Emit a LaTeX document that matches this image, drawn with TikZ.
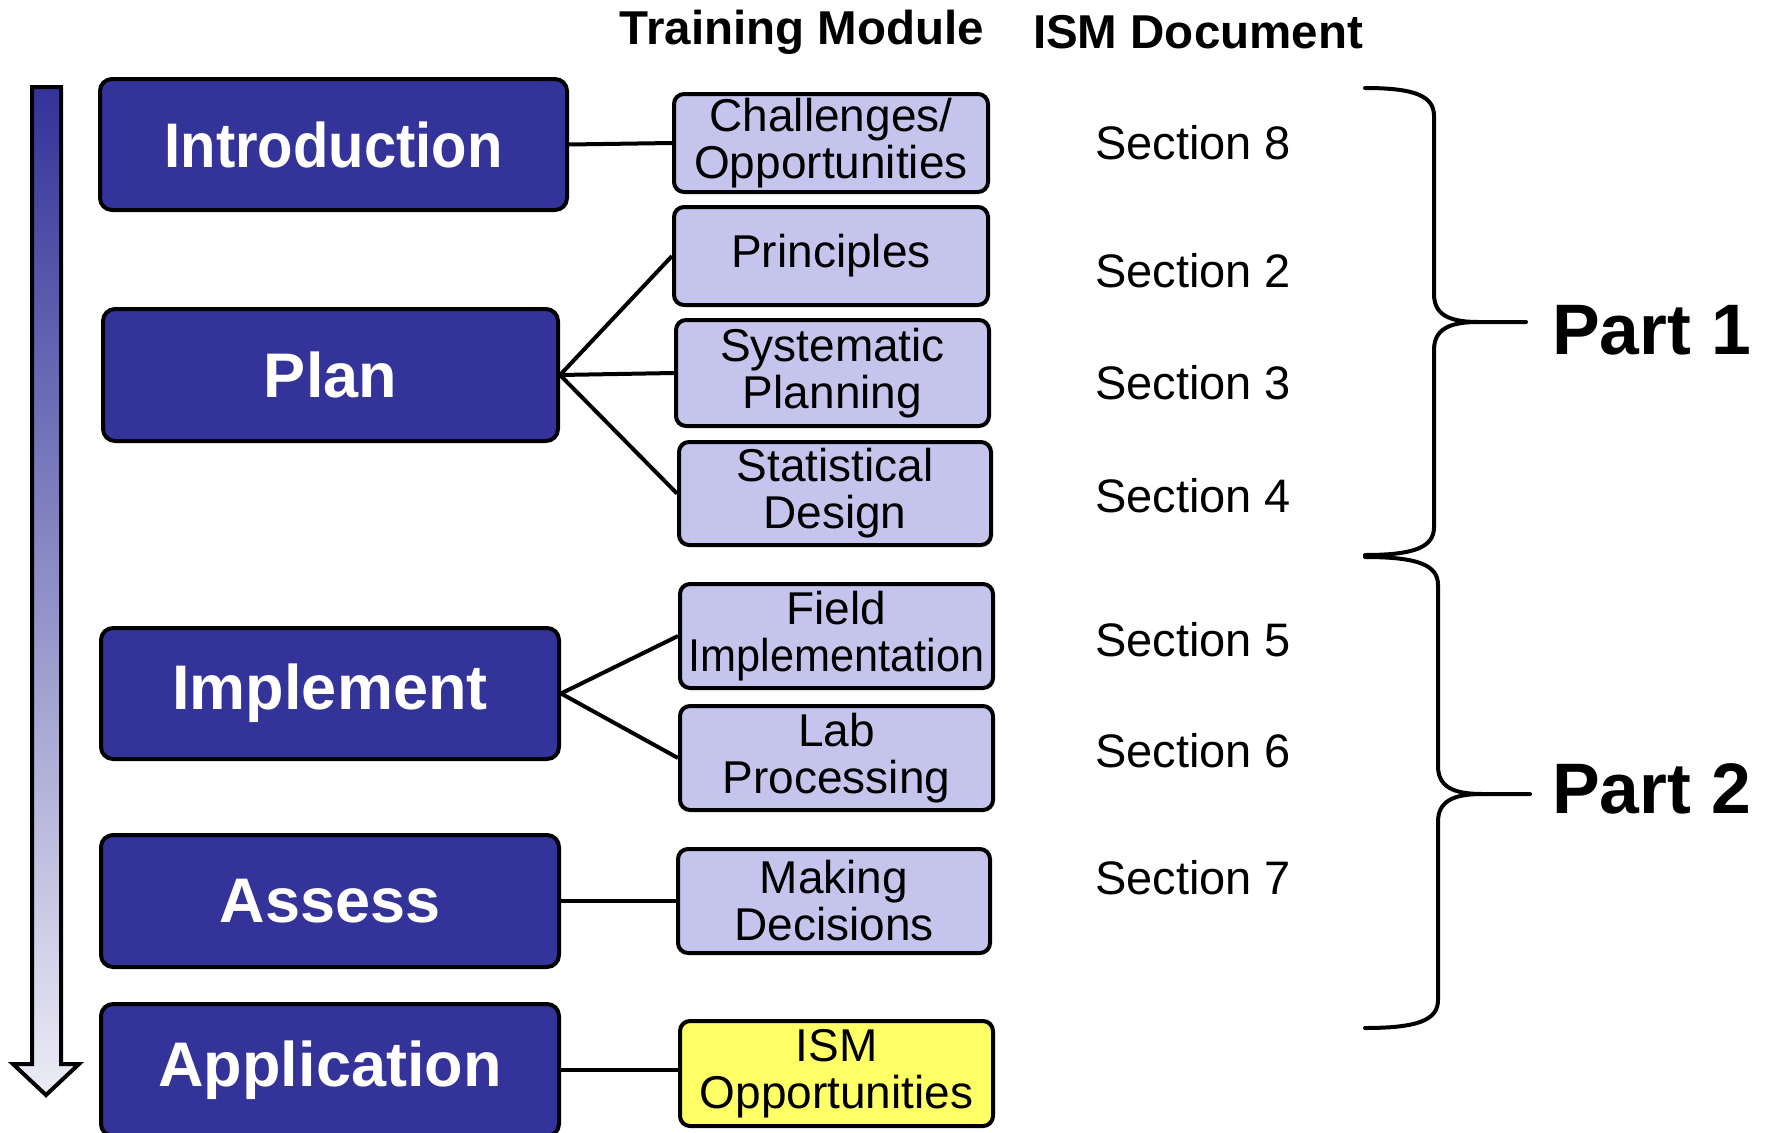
\documentclass[tikz,border=0pt]{standalone}
\usepackage{fontspec}
\setmainfont{Liberation Sans}
\definecolor{mainblue}{HTML}{333399}
\definecolor{subfill}{HTML}{C4C4EC}
\definecolor{ismyellow}{HTML}{FFFF66}
\definecolor{arrowlow}{HTML}{ECECF6}
\definecolor{arrowmid}{HTML}{A6A6D4}
\begin{document}
\begin{tikzpicture}[x=1pt,y=-1pt,
  mainbox/.style={draw=black, line width=4pt, rounded corners=12pt, fill=mainblue,
    text=white, inner sep=0pt, font=\bfseries\fontsize{63}{65}\selectfont},
  subbox/.style={draw=black, line width=4pt, rounded corners=10pt, fill=subfill,
    inner sep=0pt, align=center, font=\fontsize{46}{47}\selectfont},
  seclabel/.style={anchor=west, inner sep=0pt, font=\fontsize{47}{49}\selectfont},
  header/.style={inner sep=0pt, font=\bfseries\fontsize{47.5}{49}\selectfont},
  partlabel/.style={anchor=west, inner sep=0pt, font=\bfseries\fontsize{71.5}{73}\selectfont},
  link/.style={line width=4pt},
  bracepath/.style={line width=4pt, line cap=round, line join=round}]
\useasboundingbox (0,0) rectangle (1766,1132);

% progression arrow
\path[draw=black, line width=4pt, line join=miter, top color=mainblue, middle color=arrowmid, bottom color=arrowlow]
  (32,87) -- (61,87) -- (61,1064) -- (79,1064) -- (46,1095) -- (13,1064) -- (32,1064) -- cycle;

% headers
\node[header] (hTM) at (802,32) {Training Module};
\node[header] (hISM) at (1198,32) {ISM Document};

% main boxes
\node[mainbox, minimum width=467pt, minimum height=131pt] (intro) at (333.5,144.5) {\scalebox{0.92}[1]{Introduction}};
\node[mainbox, minimum width=455pt, minimum height=132pt] (plan) at (330.5,375) {Plan};
\node[mainbox, minimum width=458pt, minimum height=131pt] (impl) at (330,693.5) {Implement};
\node[mainbox, minimum width=458pt, minimum height=132pt] (assess) at (330,901) {Assess};
\node[mainbox, minimum width=458pt, minimum height=132pt] (appl) at (330,1070) {Application};

% training modules
\node[subbox, minimum width=314pt, minimum height=98pt] (chal) at (831,143) {Challenges/\\Opportunities};
\node[subbox, minimum width=314pt, minimum height=98pt] (princ) at (831,256) {Principles};
\node[subbox, minimum width=313pt, minimum height=106pt] (syst) at (832.5,373) {Systematic\\Planning};
\node[subbox, minimum width=312pt, minimum height=103pt] (stat) at (835,493.5) {Statistical\\Design};
\node[subbox, minimum width=313pt, minimum height=104pt] (field) at (836.5,636) {Field\\\scalebox{0.94}[1]{Implementation}};
\node[subbox, minimum width=313pt, minimum height=104pt] (lab) at (836.5,758) {Lab\\Processing};
\node[subbox, minimum width=312pt, minimum height=104pt] (mak) at (834,901) {Making\\Decisions};
\node[subbox, fill=ismyellow, minimum width=313pt, minimum height=105pt] (ism) at (836.5,1073.5) {ISM\\Opportunities};

% connectors
\draw[link] (intro.east) -- (chal.west);
\draw[link] (plan.east) -- (princ.west);
\draw[link] (plan.east) -- (syst.west);
\draw[link] (plan.east) -- (stat.west);
\draw[link] (impl.east) -- (field.west);
\draw[link] (impl.east) -- (lab.west);
\draw[link] (assess.east) -- (mak.west);
\draw[link] (appl.east) -- (appl.east -| ism.west);

% ISM document sections
\node[seclabel] (s8) at (1095,143) {Section 8};
\node[seclabel] (s2) at (1095,271) {Section 2};
\node[seclabel] (s3) at (1095,383) {Section 3};
\node[seclabel] (s4) at (1095,496) {Section 4};
\node[seclabel] (s5) at (1095,640) {Section 5};
\node[seclabel] (s6) at (1095,751) {Section 6};
\node[seclabel] (s7) at (1095,878) {Section 7};

% braces
\draw[bracepath] (1365,88) .. controls (1415,88) and (1434,96) .. (1434,116)
  -- (1434,294) .. controls (1434,314) and (1448,322) .. (1478,322) -- (1526,322);
\draw[bracepath] (1478,322) .. controls (1448,322) and (1434,330) .. (1434,350)
  -- (1434,527) .. controls (1434,547) and (1415,555) .. (1365,555);
\draw[bracepath] (1365,557) .. controls (1418,557) and (1438,565) .. (1438,585)
  -- (1438,766) .. controls (1438,786) and (1452,794) .. (1482,794) -- (1530,794);
\draw[bracepath] (1482,794) .. controls (1452,794) and (1438,802) .. (1438,822)
  -- (1438,1000) .. controls (1438,1020) and (1418,1028) .. (1365,1028);

\node[partlabel] (p1) at (1552,330) {Part 1};
\node[partlabel] (p2) at (1552,789) {Part 2};
\end{tikzpicture}
\end{document}
